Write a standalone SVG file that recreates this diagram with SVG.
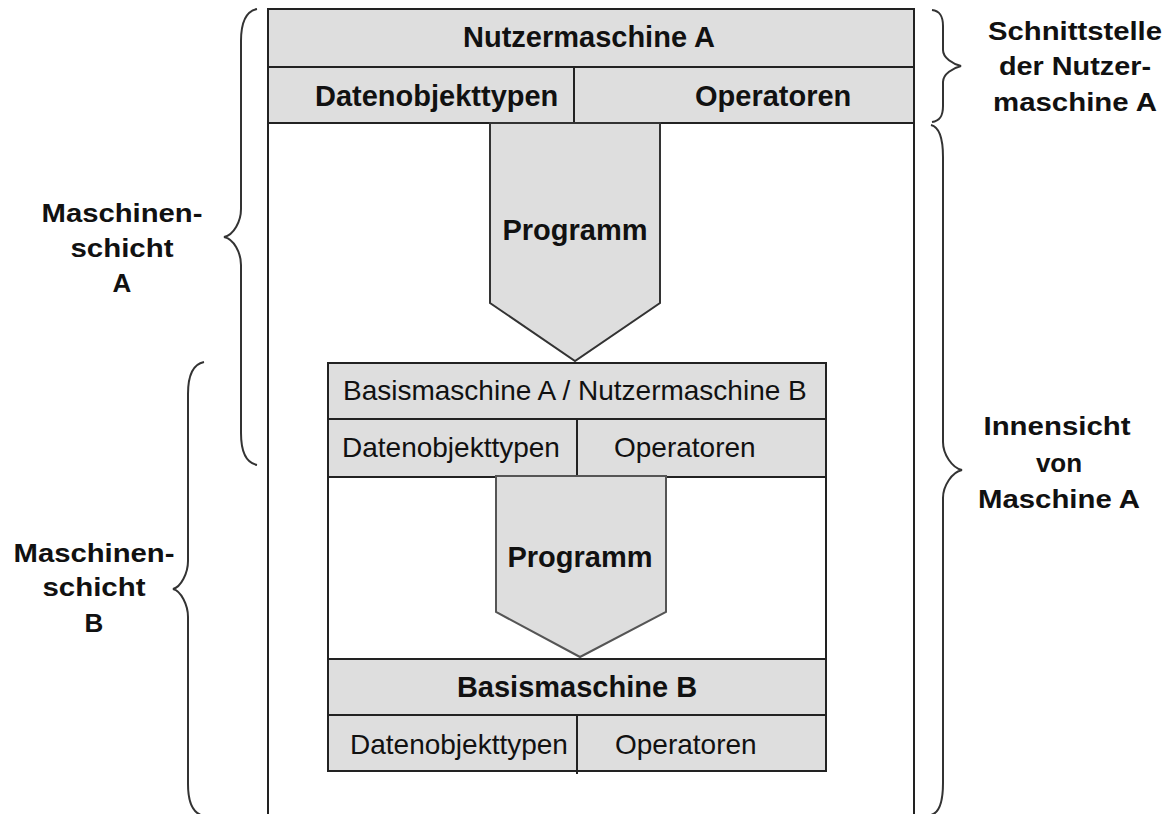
<svg xmlns="http://www.w3.org/2000/svg" width="1167" height="814" viewBox="0 0 1167 814">
<style>
.box{fill:#dedede;stroke:#222;stroke-width:2}
.ln{stroke:#222;stroke-width:2;fill:none}
.pent{fill:#dedede;stroke:#333;stroke-width:2}
.brace{fill:none;stroke:#333;stroke-width:2}
.tb{font-family:"Liberation Sans",Arial,sans-serif;font-weight:bold;font-size:29px;fill:#111}
.tr{font-family:"Liberation Sans",Arial,sans-serif;font-size:28px;fill:#111}
.side{font-family:"Liberation Sans",Arial,sans-serif;font-weight:bold;font-size:26px;fill:#111;text-anchor:middle}
</style>
<rect width="1167" height="814" fill="#fff"/>
<g id="outer">
<rect x="268" y="9" width="646" height="830" fill="#fff" stroke="#222" stroke-width="2"/>
</g>
<g id="nutzermaschineA">
<rect class="box" x="268" y="9" width="646" height="58"/>
<text class="tb" x="463" y="47">Nutzermaschine A</text>
</g>
<g id="schnittstelleA">
<rect class="box" x="268" y="67" width="306" height="56"/>
<rect class="box" x="574" y="67" width="340" height="56"/>
<text class="tb" x="315" y="106">Datenobjekttypen</text>
<text class="tb" x="695" y="106">Operatoren</text>
</g>
<g id="programmA">
<polygon class="pent" points="490,123 660,123 660,303 575,361 490,303"/>
<text class="tb" x="575" y="240" text-anchor="middle">Programm</text>
</g>
<g id="basisA">
<rect class="box" x="328" y="363" width="498" height="56"/>
<text class="tr" x="343" y="400">Basismaschine A / Nutzermaschine B</text>
<rect class="box" x="328" y="419" width="249" height="58"/>
<rect class="box" x="577" y="419" width="249" height="58"/>
<text class="tr" x="342" y="457">Datenobjekttypen</text>
<text class="tr" x="614" y="457">Operatoren</text>
<rect x="328" y="477" width="498" height="182" fill="#fff" stroke="#222" stroke-width="2"/>
</g>
<g id="programmB">
<polygon points="496,476 666,476 666,612 580,657 496,612" fill="#dedede" stroke="#555" stroke-width="2"/>
<text class="tb" x="580" y="567" text-anchor="middle">Programm</text>
</g>
<g id="basisB">
<rect class="box" x="328" y="659" width="498" height="56"/>
<text class="tb" x="577" y="697" text-anchor="middle">Basismaschine B</text>
<rect class="box" x="328" y="715" width="249" height="56"/>
<rect class="box" x="577" y="715" width="249" height="56"/>
<line class="ln" x1="577" y1="715" x2="577" y2="774"/>
<text class="tr" x="350" y="754">Datenobjekttypen</text>
<text class="tr" x="615" y="754">Operatoren</text>
</g>
<g id="connectors">
<path id="braceSchichtA" class="brace" d="M 257 9 C 247 11 241 20 241 41 L 241 209 C 241 221 234 235 224 237 C 234 239 241 253 241 265 L 241 433 C 241 454 247 463 257 465"/>
<path id="braceSchichtB" class="brace" d="M 204 362 C 194 364 188 373 188 394 L 188 561 C 188 573 181 587 173 589 C 181 591 188 605 188 617 L 188 784 C 188 805 194 814 204 816"/>
<path id="braceSchnittstelle" class="brace" d="M 932 10 C 940 11 943 16 943 26 L 943 50 C 943 58 953 64 961 66 C 953 68 943 74 943 82 L 943 106 C 943 116 940 121 932 122"/>
<path id="braceInnensicht" class="brace" d="M 931 125 C 939 127 943 136 943 157 L 943 442 C 943 454 952 468 962 470 C 952 472 943 486 943 498 L 943 783 C 943 804 939 813 931 815"/>
</g>
<g id="labels">
<text class="side" x="1075" y="40" textLength="174" lengthAdjust="spacingAndGlyphs">Schnittstelle</text>
<text class="side" x="1075" y="75" textLength="152" lengthAdjust="spacingAndGlyphs">der Nutzer-</text>
<text class="side" x="1075" y="111" textLength="164" lengthAdjust="spacingAndGlyphs">maschine A</text>
<text class="side" x="1057" y="435" textLength="147" lengthAdjust="spacingAndGlyphs">Innensicht</text>
<text class="side" x="1059" y="472">von</text>
<text class="side" x="1059" y="508" textLength="162" lengthAdjust="spacingAndGlyphs">Maschine A</text>
<text class="side" x="122" y="222" textLength="161" lengthAdjust="spacingAndGlyphs">Maschinen-</text>
<text class="side" x="122" y="257" textLength="103" lengthAdjust="spacingAndGlyphs">schicht</text>
<text class="side" x="122" y="292">A</text>
<text class="side" x="94" y="562" textLength="161" lengthAdjust="spacingAndGlyphs">Maschinen-</text>
<text class="side" x="94" y="596" textLength="103" lengthAdjust="spacingAndGlyphs">schicht</text>
<text class="side" x="94" y="632">B</text>
</g>
</svg>
